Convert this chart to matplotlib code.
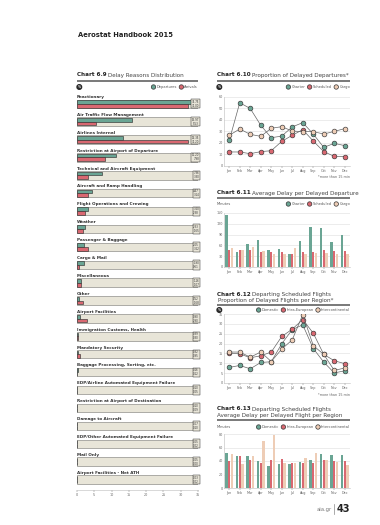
import numpy as np
import matplotlib
matplotlib.use("Agg")
import matplotlib.pyplot as plt
from matplotlib.patches import Circle

# ---------- DATA ------------
reasons = ["Reactionary", "Air Traffic Flow Management", "Airlines Internal",
           "Restriction at Airport of Departure", "Technical and Aircraft Equipment",
           "Aircraft and Ramp Handling", "Flight Operations and Crewing", "Weather",
           "Passenger & Baggage", "Cargo & Mail", "Miscellaneous", "Other",
           "Airport Facilities", "Immigration Customs, Health", "Mandatory Security",
           "Baggage Processing, Sorting, etc.", "EDP/Airline Automated Equipment Failure",
           "Restriction at Airport of Destination", "Damage to Aircraft",
           "EDP/Other Automated Equipment Failure", "Mail Only", "Airport Facilities - Net ATH"]
departures = [34.75, 15.97, 13.35, 11.20, 7.36, 4.47, 3.20, 2.33, 2.05, 1.90, 1.16, 0.52,
              0.90, 0.39, 0.32, 0.16, 0.10, 0.10, 0.07, 0.05, 0.05, 0.03]
arrivals = [32.00, 5.53, 32.20, 7.98, 3.30, 3.14, 2.38, 1.65, 3.22, 0.61, 1.07, 1.68,
            2.90, 0.30, 0.95, 0.12, 0.05, 0.09, 0.10, 0.02, 0.00, 0.02]

months = ["Jan", "Feb", "Mar", "Apr", "May", "Jun", "Jul", "Aug", "Sep", "Oct", "Nov", "Dec"]

# chart 6.10 - proportion of delayed departures (%)
prop_charter = [22.3, 55.0, 50.0, 35.4, 24.6, 26.0, 34.0, 37.7, 27.8, 16.2, 19.7, 17.7]
prop_scheduled = [12.2, 12.2, 10.7, 12.5, 13.3, 21.4, 26.7, 31.6, 21.7, 12.5, 8.4, 8.1]
prop_cargo = [26.7, 32.2, 27.5, 25.8, 32.8, 34.2, 30.4, 29.9, 29.9, 27.8, 30.1, 32.5]

# chart 6.11 - average delay per delayed departure (minutes)
delay_charter = [145, 42, 64, 75, 46, 50, 37, 72, 112, 108, 69, 90]
delay_scheduled = [46, 48, 46, 43, 42, 41, 37, 41, 41, 46, 44, 44]
delay_cargo = [52, 48, 56, 45, 37, 37, 53, 36, 40, 40, 37, 35]

# chart 6.12 - scheduled flights, proportion delayed per region (%)
reg_domestic = [7.9, 8.9, 7.2, 10.4, 10.8, 19.9, 27.1, 29.5, 17.5, 10.6, 5.1, 6.2]
reg_intra = [15.2, 14.8, 12.8, 13.8, 15.7, 23.6, 27.3, 32.2, 25.3, 14.5, 11.3, 9.8]
reg_inter = [15.7, 15.7, 13.1, 15.7, 10.9, 17.2, 21.9, 34.7, 19.0, 14.5, 6.4, 7.6]

# chart 6.13 - scheduled flights, average delay per region (minutes)
rdel_domestic = [52, 48, 48, 40.5, 33, 35, 35, 38, 42, 50.5, 49, 49]
rdel_intra = [40, 47, 41.5, 36.5, 41.5, 42.5, 37.5, 37.5, 36.5, 41.5, 40, 40]
rdel_inter = [51, 35, 47, 70, 79, 37.5, 37, 44, 52, 41.5, 38, 34.5]
# ------------------------------

teal = "#6aa594"
red = "#d96871"
peach = "#eecdb6"
beige = "#e8e5d8"
dark = "#333333"

W, H = 380, 525
fig = plt.figure(figsize=(3.8, 5.25), dpi=100)
renderer = fig.canvas.get_renderer()

page = fig.add_axes([0, 0, 1, 1])
page.set_xlim(0, W)
page.set_ylim(H, 0)
page.axis("off")


def ax_px(x0, y0, x1, y1):
    return fig.add_axes([x0 / W, 1 - y1 / H, (x1 - x0) / W, (y1 - y0) / H])


def title(x, y, bold, rest, size=4.1):
    t = page.text(x, y, bold, fontsize=size, weight="bold", va="center", color="#222222")
    w = t.get_window_extent(renderer).width
    page.text(x + w + 1.0, y, rest, fontsize=size, va="center", color="#444444")


def rule(x0, x1, y):
    page.plot([x0, x1], [y, y], color="#555555", lw=1.1, solid_capstyle="butt")


def icon(x, y, txt):
    page.add_patch(Circle((x + 2.3, y), 2.3, color="#2a2a2a"))
    page.text(x + 2.3, y, txt, fontsize=2.2, color="white", ha="center", va="center", weight="bold")


def legend(x1, y, items):
    x = x1
    for lab, c in reversed(items):
        t = page.text(x, y, lab, fontsize=2.6, ha="right", va="center", color="#555555")
        w = t.get_window_extent(renderer).width
        x = x - w - 3.0
        page.add_patch(Circle((x, y), 2.2, facecolor=c, edgecolor=dark, lw=0.5))
        x = x - 4.5


def style(ax, ylim, yticks):
    ax.set_xlim(-0.5, 11.5)
    ax.set_ylim(*ylim)
    ax.set_yticks(yticks)
    ax.set_xticks(range(12))
    ax.set_xticklabels(months)
    ax.tick_params(labelsize=2.4, colors="#666666", length=1.2, width=0.3, pad=1)
    ax.tick_params(axis="y", length=0)
    ax.grid(axis="y", color="#dddddd", lw=0.4)
    ax.set_axisbelow(True)
    for s in ["top", "right"]:
        ax.spines[s].set_visible(False)
    for s in ["left", "bottom"]:
        ax.spines[s].set_color("#bbbbbb")
        ax.spines[s].set_linewidth(0.4)
    ax.set_facecolor("none")


def line_chart(box, series, ylim, yticks):
    ax = ax_px(*box)
    xs = np.arange(12)
    for vals, c in series:
        ax.plot(xs, vals, color="#666666", lw=0.5, marker="o", ms=3.4,
                mfc=c, mec=dark, mew=0.45, zorder=3)
    style(ax, ylim, yticks)
    return ax


def bar_chart(box, series, ylim, yticks):
    ax = ax_px(*box)
    xs = np.arange(12)
    bw = 0.23
    for k, (vals, c) in enumerate(series):
        ax.bar(xs + (k - 1) * (bw + 0.04), vals, width=bw, color=c, zorder=2)
    style(ax, ylim, yticks)
    return ax


# header
page.text(78, 35, "Aerostat Handbook 2015", fontsize=4.9, weight="bold", va="center", color="#222222")

# ---------- chart 6.9 ----------
L0, L1 = 77, 198
title(L0, 75, "Chart 6.9", "Delay Reasons Distribution")
rule(L0, L1, 80.5)
icon(L0, 87, "%")
legend(L1, 87, [("Departures", teal), ("Arrivals", red)])

axl = ax_px(L0, 88, L1, 490)
n = len(reasons)
idx = np.arange(n)
axl.barh(idx + 0.375, 35.6, height=0.47, color=beige, edgecolor="#8f8f8a", lw=0.5, zorder=1)
axl.barh(idx + 0.275, departures, height=0.21, color=teal, edgecolor=dark, lw=0.45, zorder=2)
axl.barh(idx + 0.485, arrivals, height=0.21, color=red, edgecolor=dark, lw=0.45, zorder=2)
for i in range(n):
    axl.text(0, i, reasons[i], fontsize=3.0, weight="bold", va="center", color="#333333")
    axl.text(35.3, i + 0.38, "%.2f\n%.2f" % (departures[i], arrivals[i]), fontsize=1.9,
             ha="right", va="center", color="#333333", linespacing=1.0, zorder=4,
             bbox=dict(boxstyle="square,pad=0.25", fc=beige, ec=dark, lw=0.35))
axl.set_xlim(0, 35)
axl.set_ylim(21.96, -0.503)
axl.set_xticks(range(0, 36, 5))
axl.set_yticks([])
axl.tick_params(labelsize=2.4, colors="#666666", length=1.2, width=0.3, pad=1)
for s in ["top", "right", "left"]:
    axl.spines[s].set_visible(False)
axl.spines["bottom"].set_color("#bbbbbb")
axl.spines["bottom"].set_linewidth(0.4)
axl.set_facecolor("none")

# ---------- right column ----------
R0, R1 = 217, 350
PX0 = 224

# chart 6.10
title(R0, 75, "Chart 6.10", "Proportion of Delayed Departures*")
rule(R0, R1, 80.5)
icon(R0, 87, "%")
legend(R1, 87, [("Charter", teal), ("Scheduled", red), ("Cargo", peach)])
line_chart((PX0, 97, R1, 166),
           [(prop_charter, teal), (prop_scheduled, red), (prop_cargo, peach)],
           (0, 60), range(0, 61, 10))
page.text(R1, 176.5, "*more than 15 min", fontsize=2.4, ha="right", va="center", color="#666666")

# chart 6.11
title(R0, 193, "Chart 6.11", "Average Delay per Delayed Departure")
rule(R0, R1, 198)
page.text(R0, 204, "Minutes", fontsize=2.6, va="center", color="#555555")
legend(R1, 204, [("Charter", teal), ("Scheduled", red), ("Cargo", peach)])
bar_chart((PX0, 213, R1, 267),
          [(delay_charter, teal), (delay_scheduled, red), (delay_cargo, peach)],
          (0, 150), range(0, 151, 30))

# chart 6.12
title(R0, 294.5, "Chart 6.12", "Departing Scheduled Flights")
page.text(R0 + 1.5, 300.5, "Proportion of Delayed Flights per Region*", fontsize=4.1, va="center", color="#444444")
rule(R0, R1, 305)
icon(R0, 310, "%")
legend(R1, 310, [("Domestic", teal), ("Intra-European", red), ("Intercontinental", peach)])
line_chart((PX0, 314, R1, 383),
           [(reg_domestic, teal), (reg_intra, red), (reg_inter, peach)],
           (0, 35), range(0, 36, 5))
page.text(R1, 395, "*more than 15 min", fontsize=2.4, ha="right", va="center", color="#666666")

# chart 6.13
title(R0, 409, "Chart 6.13", "Departing Scheduled Flights")
page.text(R0, 415, "Average Delay per Delayed Flight per Region", fontsize=4.1, va="center", color="#444444")
rule(R0, R1, 420)
page.text(R0, 427, "Minutes", fontsize=2.6, va="center", color="#555555")
legend(R1, 427, [("Domestic", teal), ("Intra-European", red), ("Intercontinental", peach)])
bar_chart((PX0, 434, R1, 488),
          [(rdel_domestic, teal), (rdel_intra, red), (rdel_inter, peach)],
          (0, 80), range(0, 81, 20))

# footer
t43 = page.text(R1, 509, "43", fontsize=7, weight="bold", ha="right", va="center", color="#222222")
w43 = t43.get_window_extent(renderer).width
page.plot([R1 - w43 - 2.5, R1 - w43 - 2.5], [504, 514], color="#888888", lw=0.5)
page.text(R1 - w43 - 4.5, 509.5, "aia.gr", fontsize=3.8, ha="right", va="center", color="#777777")

fig.savefig("out.png", dpi=100, facecolor="white")
